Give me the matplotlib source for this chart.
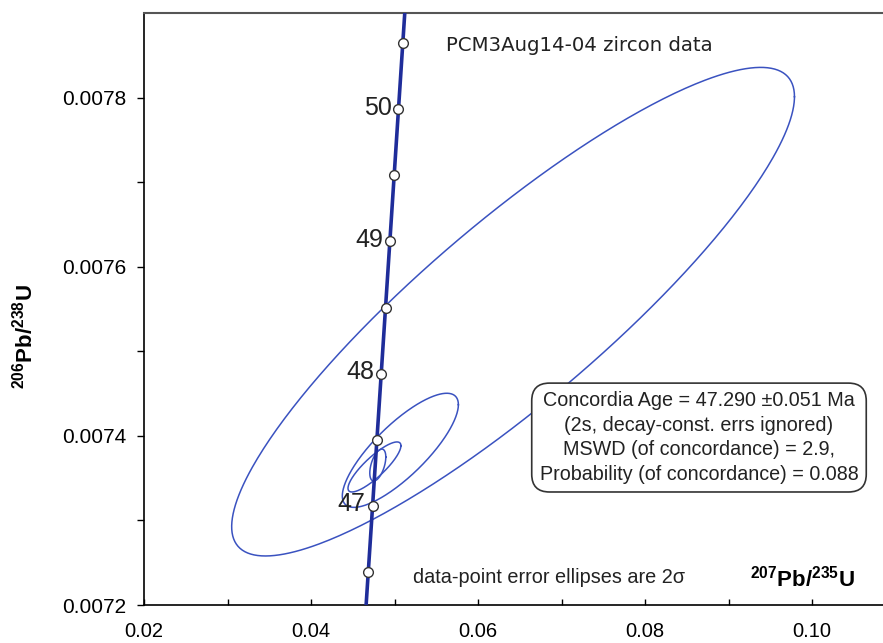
import numpy as np
import matplotlib
matplotlib.use('Agg')
import matplotlib.pyplot as plt

plt.rcParams['font.family'] = ['Liberation Sans', 'DejaVu Sans']
plt.rcParams['mathtext.fontset'] = 'custom'
plt.rcParams['mathtext.rm'] = 'Liberation Sans'
plt.rcParams['mathtext.bf'] = 'Liberation Sans:bold'

# decay constants (1/yr) for the concordia curve
LAMBDA_238 = 1.55125e-10
LAMBDA_235 = 9.8485e-10

# concordia age markers (Ma) and labelled ages
age_marks = [46.5, 47.0, 47.5, 48.0, 48.5, 49.0, 49.5, 50.0, 50.5]
age_labels = [47, 48, 49, 50]

# data-point error ellipses (2 sigma): centres, half-extents, correlation
ell_x = [0.0642, 0.0507, 0.0476, 0.0480]
ell_y = [0.007547, 0.007383, 0.0073633, 0.0073656]
ell_sx = [0.0337, 0.00695, 0.00317, 0.00096]
ell_sy = [0.000289, 0.0000675, 0.0000296, 0.0000189]
ell_rho = [0.88, 0.80, 0.85, 0.5]

x_ticks = [0.02, 0.04, 0.06, 0.08, 0.10]
y_ticks = [0.0072, 0.0074, 0.0076, 0.0078]

box_lines = ["Concordia Age = 47.290 \u00b10.051 Ma",
             "(2s, decay-const. errs ignored)",
             "MSWD (of concordance) = 2.9,",
             "Probability (of concordance) = 0.088"]

CONC_COLOR = '#1f2d9a'
ELL_COLOR = '#3a52c0'

fig = plt.figure(figsize=(8.83, 6.43), dpi=100)
ax = fig.add_axes([144/883, 38/643, 739/883, 591.7/643])
ax.set_xlim(0.02, 0.02 + 739/167*0.02)
ax.set_ylim(0.0072, 0.0079)

# ellipses
t = np.linspace(0, 2*np.pi, 400)
for cx, cy, sx, sy, r in zip(ell_x, ell_y, ell_sx, ell_sy, ell_rho):
    ex = cx + sx*np.cos(t)
    ey = cy + sy*(r*np.cos(t) + np.sqrt(1 - r*r)*np.sin(t))
    ax.plot(ex, ey, color=ELL_COLOR, lw=1.1, zorder=2)

# concordia curve
ages = np.linspace(45.0, 52.0, 300) * 1e6
cx_ = np.exp(LAMBDA_235*ages) - 1
cy_ = np.exp(LAMBDA_238*ages) - 1
ax.plot(cx_, cy_, color=CONC_COLOR, lw=2.6, zorder=3)

ma = np.array(age_marks) * 1e6
ax.plot(np.exp(LAMBDA_235*ma) - 1, np.exp(LAMBDA_238*ma) - 1, 'o', ms=7,
        mfc='white', mec='#333333', mew=1.0, zorder=4)
for a in age_labels:
    xa = np.exp(LAMBDA_235*a*1e6) - 1
    ya = np.exp(LAMBDA_238*a*1e6) - 1
    ax.annotate(str(a), (xa, ya), xytext=(-5, 1), textcoords='offset points',
                ha='right', va='center', fontsize=18, color='#222222', zorder=5)

# axes styling
ax.spines['right'].set_visible(False)
ax.spines['top'].set_color('#555555')
ax.spines['top'].set_linewidth(1.5)
ax.spines['left'].set_linewidth(1.2)
ax.spines['bottom'].set_linewidth(1.2)
ax.set_xticks(x_ticks)
ax.set_xticklabels(['%.2f' % v for v in x_ticks])
ax.set_yticks(y_ticks)
ax.set_yticklabels(['%.4f' % v for v in y_ticks])
ax.set_xticks([0.03, 0.05, 0.07, 0.09], minor=True)
ax.set_yticks([0.0073, 0.0075, 0.0077], minor=True)
ax.tick_params(axis='x', which='both', direction='in', length=4, width=1,
               labelsize=14.5, pad=12)
ax.tick_params(axis='y', which='both', direction='out', length=5, width=1,
               labelsize=15, pad=8)

ax.text(0.4087, 0.946, "PCM3Aug14-04 zircon data", transform=ax.transAxes,
        family='DejaVu Sans', fontsize=14.2, ha='left', va='center', color='#222222')
ax.text(0.364, 0.047, "data-point error ellipses are 2\u03c3", transform=ax.transAxes,
        fontsize=14.3, ha='left', va='center', color='#222222')
ax.text(0.820, 0.045, r'$\mathbf{^{207}Pb/^{235}U}$', transform=ax.transAxes,
        fontsize=16, ha='left', va='center')
fig.text(25/883, 1 - 337/643, r'$\mathbf{^{206}Pb/^{238}U}$', rotation=90,
         fontsize=16, ha='center', va='center')

ax.text(0.751, 0.283, "\n".join(box_lines), transform=ax.transAxes,
        fontsize=14.2, ha='center', va='center', linespacing=1.38, color='#222222',
        bbox=dict(boxstyle='round,pad=0.4,rounding_size=0.9', fc='white',
                  ec='#333333', lw=1.2), zorder=6)

fig.savefig('out.png', dpi=100)
